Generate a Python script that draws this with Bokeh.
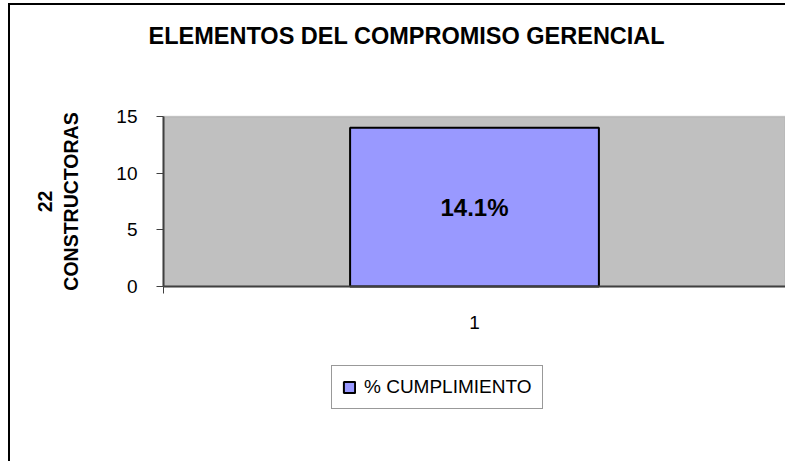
from bokeh.plotting import figure
from bokeh.models import (Range1d, FixedTicker, Legend, LegendItem, Label, BoxAnnotation,
                          ColumnDataSource)
from bokeh.core.properties import value
from bokeh.embed import file_html
from bokeh.resources import INLINE

# ---- data ----
categories = ["1"]
cumplimiento = [14.0]
bar_labels = ["14.1%"]
series_name = "% CUMPLIMIENTO"
title_text = "ELEMENTOS DEL COMPROMISO GERENCIAL"
y_label = "22\nCONSTRUCTORAS"
y_ticks = [0, 5, 10, 15]

FONT = "Liberation Sans"
W, H = 777, 458
# pixel layout of the plot area inside the canvas
AX_L, AX_R, AX_T, AX_B = 153, 775, 111, 281

xs = list(range(1, len(categories) + 1))
x_lo, x_hi = 0.5, len(categories) + 0.5
y_lo, y_hi = y_ticks[0], y_ticks[-1]
ppx = (AX_R - AX_L) / (x_hi - x_lo)
ppy = (AX_B - AX_T) / (y_hi - y_lo)

src = ColumnDataSource(dict(x=xs, top=cumplimiento, ymid=[v / 2 for v in cumplimiento], lab=bar_labels))

p = figure(width=W, height=H, output_backend="svg", toolbar_location=None,
           x_range=Range1d(x_lo - AX_L / ppx, x_hi + (W - AX_R) / ppx),
           y_range=Range1d(y_lo - (H - AX_B) / ppy, y_hi + AX_T / ppy),
           min_border_left=0, min_border_right=0, min_border_top=0, min_border_bottom=0)
p.styles = {"border-left": "2px solid black", "border-top": "2px solid black",
            "margin-left": "8px", "margin-top": "3px"}

p.background_fill_color = "white"
p.border_fill_color = "white"
p.outline_line_color = None
p.xgrid.visible = False
p.ygrid.visible = False

# gray plot area
p.add_layout(BoxAnnotation(left=x_lo, right=x_hi, bottom=y_lo, top=y_hi, fill_color="#C0C0C0",
                           fill_alpha=1, line_color="#808080", line_width=1.5, level="underlay"))

r = p.vbar(x="x", top="top", bottom=0, width=0.4, source=src,
           fill_color="#9999FF", line_color="black", line_width=2)
p.text(x="x", y="ymid", text="lab", source=src, text_align="center", text_baseline="middle",
       text_font=value(FONT), text_font_style="bold", text_font_size="24px", text_color="black")

# y axis
p.yaxis.fixed_location = x_lo
p.yaxis.bounds = (y_lo, y_hi)
p.yaxis.ticker = FixedTicker(ticks=y_ticks)
p.yaxis.axis_line_color = "#404040"
p.yaxis.axis_line_width = 2
p.yaxis.major_tick_line_color = "#404040"
p.yaxis.major_tick_out = 7
p.yaxis.major_tick_in = 0
p.yaxis.minor_tick_line_color = None
p.yaxis.major_label_text_font = FONT
p.yaxis.major_label_text_font_size = "19px"
p.yaxis.major_label_text_color = "black"
p.yaxis.major_label_standoff = 19
p.yaxis.axis_label = y_label
p.yaxis.axis_label_text_font = FONT
p.yaxis.axis_label_text_font_style = "bold"
p.yaxis.axis_label_text_font_size = "19.5px"
p.yaxis.axis_label_text_color = "black"
p.yaxis.axis_label_standoff = 31

# x axis
p.xaxis.fixed_location = y_lo
p.xaxis.bounds = (x_lo, x_hi)
p.xaxis.ticker = FixedTicker(ticks=xs, minor_ticks=[x_lo + i for i in range(len(categories) + 1)])
p.xaxis.major_label_overrides = {x: c for x, c in zip(xs, categories)}
p.xaxis.axis_line_color = "#404040"
p.xaxis.axis_line_width = 2
p.xaxis.major_tick_line_color = None
p.xaxis.major_tick_out = 0
p.xaxis.minor_tick_line_color = "#404040"
p.xaxis.minor_tick_out = 7
p.xaxis.minor_tick_in = 0
p.xaxis.major_label_text_font = FONT
p.xaxis.major_label_text_font_size = "19px"
p.xaxis.major_label_text_color = "black"
p.xaxis.major_label_standoff = 22

# title
p.add_layout(Label(x=138, y=H - 30, x_units="screen", y_units="screen", text=title_text,
                   text_font=FONT, text_font_style="bold", text_font_size="23.5px",
                   text_color="black", text_baseline="alphabetic", text_align="left"))

# legend
leg = Legend(items=[LegendItem(label=series_name, renderers=[r])], location=(321, H - 404),
             border_line_color="#333333", border_line_width=1, background_fill_color="white",
             background_fill_alpha=1, padding=10, margin=0, glyph_width=14, glyph_height=14,
             label_standoff=8, label_text_font=FONT, label_text_font_size="19px",
             label_text_color="black")
p.add_layout(leg, "center")

open("out.html", "w").write(file_html(p, INLINE))
